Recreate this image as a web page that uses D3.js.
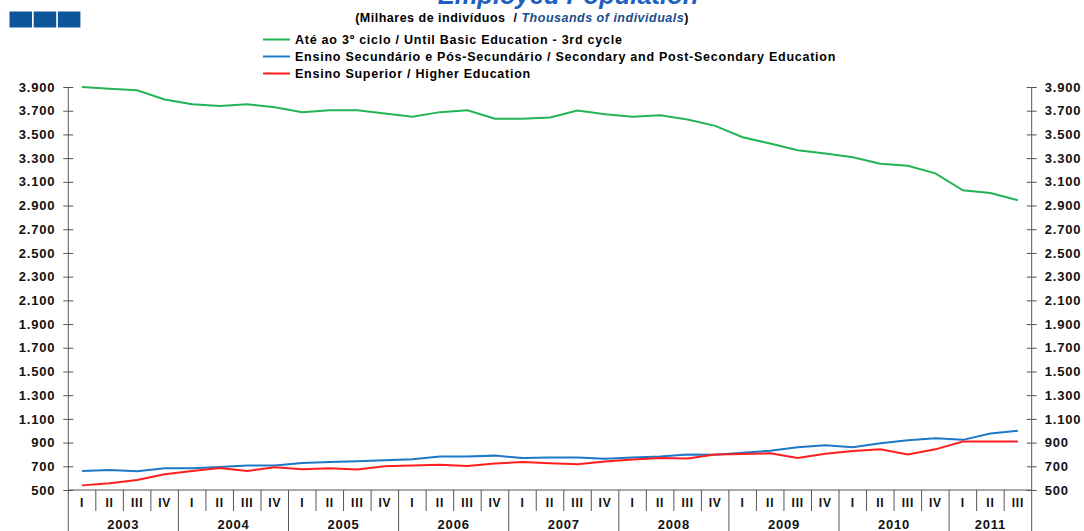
<!DOCTYPE html>
<html>
<head>
<meta charset="utf-8">
<script src="https://cdn.jsdelivr.net/npm/d3@7"></script>
<style>
  body { margin: 0; background: #fff; }
  text { font-family: "Liberation Sans", Arial, sans-serif; white-space: pre; }
</style>
</head>
<body>
<div id="chart"></div>
<script>
// Categories
const years = ['2003', '2004', '2005', '2006', '2007', '2008', '2009', '2010', '2011']
const quarters = ['I', 'II', 'III', 'IV']
const periods = years.flatMap(y => quarters.map(q => y + ' ' + q)).slice(0, 35)

// Series (thousands of individuals)
const basicEdu = [3900, 3886, 3872, 3795, 3754, 3740, 3754, 3729, 3688, 3704, 3704, 3677,
  3649, 3688, 3704, 3632, 3632, 3642, 3701, 3670, 3648, 3662, 3625, 3572, 3476, 3423,
  3367, 3339, 3308, 3252, 3235, 3171, 3028, 3005, 2944]
const secondaryEdu = [660, 669, 658, 683, 683, 694, 706, 706, 728, 737, 742, 751, 759, 782,
  782, 790, 770, 774, 774, 763, 774, 783, 800, 797, 814, 831, 860, 877, 860, 894, 920,
  937, 923, 977, 1000]
const higherEdu = [539, 556, 585, 632, 660, 686, 660, 692, 675, 683, 672, 700, 706, 714,
  703, 723, 737, 726, 717, 740, 757, 771, 766, 800, 803, 809, 771, 806, 829, 843, 800,
  843, 909, 909, 909]

const yTicks = d3.range(500, 3901, 200)

const series = [
  { name: 'Até ao 3º ciclo / Until Basic Education - 3rd cycle', values: basicEdu, color: '#22b455' },
  { name: 'Ensino Secundário e Pós-Secundário / Secondary and Post-Secondary Education', values: secondaryEdu, color: '#1d78c6' },
  { name: 'Ensino Superior / Higher Education', values: higherEdu, color: '#ff1e1e' }
]

// Canvas
const width = 1084,
  height = 531,
  plotLeft = 68.3,
  plotRight = 1031.7,
  plotTop = 87,
  plotBottom = 490

const pt = d3.formatLocale({ decimal: ',', thousands: '.', grouping: [3], currency: ['', '€'] })
const fmt = pt.format(',')

let svg = d3.select('#chart')
  .append('svg')
  .attr('width', width)
  .attr('height', height)

let x = d3.scaleBand()
  .domain(periods)
  .range([plotLeft, plotRight])
  .padding(0)

let y = d3.scaleLinear()
  .domain([500, 3900])
  .range([plotBottom, plotTop])

// Header
svg.append('g')
  .selectAll('rect')
  .data([0, 1, 2])
  .enter()
  .append('rect')
  .attr('x', d => 9.5 + d * 24.2)
  .attr('y', 11.5)
  .attr('width', 22.5)
  .attr('height', 16)
  .attr('fill', '#0d5699')

// title sits mostly above the top edge, as in the source
svg.append('text')
  .attr('x', 568)
  .attr('y', 4)
  .attr('text-anchor', 'middle')
  .attr('font-size', 25.5)
  .attr('font-weight', 'bold')
  .attr('font-style', 'italic')
  .attr('fill', '#1f5fbf')
  .text('Employed Population')

let sub = svg.append('text')
  .attr('x', 522)
  .attr('y', 22)
  .attr('text-anchor', 'middle')
  .attr('font-size', 12.5)
  .attr('font-weight', 'bold')
  .attr('letter-spacing', 0.5)
sub.append('tspan').text('(Milhares de indivíduos  / ')
sub.append('tspan').attr('font-style', 'italic').attr('fill', '#1b4d8c').text('Thousands of individuals')
sub.append('tspan').text(')')

// Legend
let legend = svg.append('g')
  .selectAll('g')
  .data(series)
  .enter()
  .append('g')
  .attr('transform', (d, i) => `translate(263, ${39.5 + i * 17})`)

legend.append('line')
  .attr('x1', 0)
  .attr('x2', 27)
  .attr('stroke', d => d.color)
  .attr('stroke-width', 2)

legend.append('text')
  .attr('x', 32)
  .attr('y', 4.5)
  .attr('font-size', 12.5)
  .attr('font-weight', 'bold')
  .attr('letter-spacing', 0.75)
  .text(d => d.name)

// Y axes, ticks cross the axis line
let yLeft = svg.append('g')
  .attr('transform', `translate(${plotLeft}, 0)`)
  .call(d3.axisLeft(y).tickValues(yTicks).tickFormat(fmt).tickSize(5).tickPadding(8))

let yRight = svg.append('g')
  .attr('transform', `translate(${plotRight}, 0)`)
  .call(d3.axisRight(y).tickValues(yTicks).tickFormat(fmt).tickSize(5).tickPadding(8))

yLeft.selectAll('.tick line').attr('x1', 5)
yRight.selectAll('.tick line').attr('x1', -5)

svg.selectAll('.domain').remove()
svg.selectAll('.tick line').attr('stroke', '#555')
svg.selectAll('.tick text')
  .attr('font-family', '"Liberation Sans", Arial, sans-serif')
  .attr('font-size', 13)
  .attr('font-weight', 'bold')
  .attr('letter-spacing', 0.8)
  .attr('fill', '#111')

// Axis frame lines
svg.append('g')
  .selectAll('line')
  .data([plotLeft, plotRight])
  .enter()
  .append('line')
  .attr('x1', d => d)
  .attr('x2', d => d)
  .attr('y1', plotTop)
  .attr('y2', height)
  .attr('stroke', '#555')

svg.append('line')
  .attr('x1', plotLeft)
  .attr('x2', plotRight)
  .attr('y1', plotBottom)
  .attr('y2', plotBottom)
  .attr('stroke', '#555')

// X axis: quarter labels
let xAxis = svg.append('g')
  .attr('transform', `translate(0, ${plotBottom})`)
  .call(d3.axisBottom(x).tickSize(0).tickPadding(8).tickFormat(d => d.split(' ')[1]))
xAxis.select('.domain').remove()
xAxis.selectAll('text')
  .attr('font-family', '"Liberation Sans", Arial, sans-serif')
  .attr('font-size', 12)
  .attr('font-weight', 'bold')
  .attr('letter-spacing', 0.8)
  .attr('fill', '#111')

// Separators between quarters and years
svg.append('g')
  .selectAll('line')
  .data(periods.slice(1))
  .enter()
  .append('line')
  .attr('x1', d => x(d))
  .attr('x2', d => x(d))
  .attr('y1', plotBottom)
  .attr('y2', d => d.endsWith(' I') ? height : 511)
  .attr('stroke', '#555')

// Year labels
svg.append('g')
  .selectAll('text')
  .data(years)
  .enter()
  .append('text')
  .attr('x', yr => {
    let qs = periods.filter(p => p.startsWith(yr))
    return (x(qs[0]) + x(qs[qs.length - 1]) + x.bandwidth()) / 2
  })
  .attr('y', 529)
  .attr('text-anchor', 'middle')
  .attr('font-size', 13)
  .attr('font-weight', 'bold')
  .attr('letter-spacing', 0.8)
  .attr('fill', '#111')
  .text(yr => yr)

// Series lines
let line = d3.line()
  .x((d, i) => x(periods[i]) + x.bandwidth() / 2)
  .y(d => y(d))

svg.append('g')
  .selectAll('path')
  .data(series)
  .enter()
  .append('path')
  .attr('d', d => line(d.values))
  .attr('fill', 'none')
  .attr('stroke', d => d.color)
  .attr('stroke-width', 2)
</script>
</body>
</html>
